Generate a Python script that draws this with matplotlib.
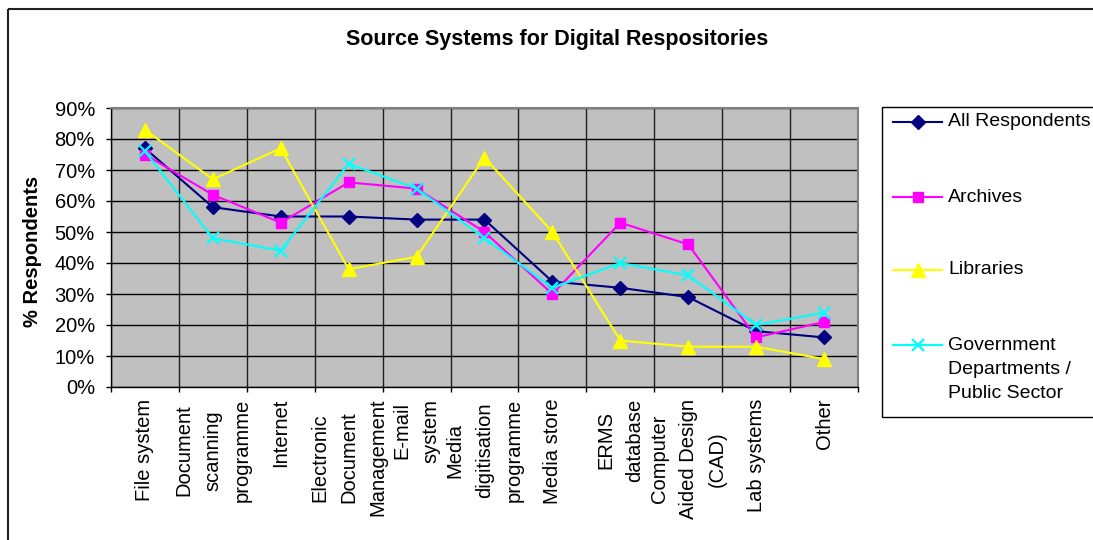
import matplotlib
matplotlib.use("Agg")
import matplotlib.pyplot as plt
from matplotlib.patches import Rectangle
import numpy as np

plt.rcParams['font.family'] = ['Liberation Sans', 'DejaVu Sans']

# ---- data -------------------------------------------------------------
categories = [
    "File system",
    "Document\nscanning\nprogramme",
    "Internet",
    "Electronic\nDocument\nManagement",
    "E-mail\nsystem",
    "Media\ndigitisation\nprogramme",
    "Media store",
    "ERMS\ndatabase",
    "Computer\nAided Design\n(CAD)",
    "Lab systems",
    "Other",
]
all_respondents = [77, 58, 55, 55, 54, 54, 34, 32, 29, 18, 16]
archives = [75, 62, 53, 66, 64, 50, 30, 53, 46, 16, 21]
libraries = [83, 67, 77, 38, 42, 74, 50, 15, 13, 13, 9]
government = [76, 48, 44, 72, 64, 48, 32, 40, 36, 20, 24]
series_names = ["All Respondents", "Archives", "Libraries",
                "Government\nDepartments /\nPublic Sector"]
y_ticks = [0, 10, 20, 30, 40, 50, 60, 70, 80, 90]
title = "Source Systems for Digital Respositories"
y_label = "% Respondents"

# ---- styles -----------------------------------------------------------
styles = [
    dict(color="#000080", marker="D", markersize=7, lw=1.5),
    dict(color="#FF00FF", marker="s", markersize=7, lw=1.5),
    dict(color="#FFFF00", marker="^", markersize=9.5, lw=1.5),
    dict(color="#00FFFF", marker="x", markersize=9, markeredgewidth=1.6, lw=1.5),
]

W, H = 1093, 540
fig = plt.figure(figsize=(W / 100, H / 100), dpi=100)


def px_box(left, top, right, bottom):
    return [left / W, 1 - bottom / H, (right - left) / W, (bottom - top) / H]


ax = fig.add_axes(px_box(111, 108, 858, 387))
ax.set_facecolor("#C0C0C0")

x = np.arange(len(categories))
for values, st in zip([all_respondents, archives, libraries, government], styles):
    ax.plot(x, values, markeredgecolor=st["color"], markerfacecolor=st["color"],
            clip_on=False, zorder=3, **st)

ax.set_xlim(-0.5, len(categories) - 0.5)
ax.set_ylim(0, 90)

ax.set_yticks(y_ticks)
ax.set_yticklabels([f"{v}%" for v in y_ticks], fontsize=14.5)
ax.set_xticks(x)
ax.set_xticklabels(categories, rotation=90, ha="center", va="top",
                   multialignment="center", fontsize=14.5, linespacing=1.68)
ax.set_xticks(np.arange(-0.5, len(categories), 1.0), minor=True)

ax.tick_params(axis="y", direction="out", length=3.6, width=1, pad=8, colors="black")
ax.tick_params(axis="x", which="major", length=0, pad=8.5)
ax.tick_params(axis="x", which="minor", direction="out", length=3.6, width=1)

ax.yaxis.grid(True, color="black", lw=1)
ax.xaxis.grid(True, which="minor", color="#202020", lw=1)
ax.set_axisbelow(True)

for side in ("left", "bottom"):
    ax.spines[side].set_color("black")
    ax.spines[side].set_linewidth(1)
for side in ("top", "right"):
    ax.spines[side].set_color("#808080")
    ax.spines[side].set_linewidth(1.5)

fig.text(557 / W, 1 - 40 / H, title, ha="center", va="center",
         fontsize=15.5, fontweight="bold")
fig.text(33 / W, 1 - 251 / H, y_label, rotation=90, ha="center", va="center",
         fontsize=14.5, fontweight="bold")

# ---- overlay in pixel coordinates: chart border and legend ------------
lax = fig.add_axes([0, 0, 1, 1])
lax.set_xlim(0, W)
lax.set_ylim(H, 0)
lax.axis("off")

lax.add_patch(Rectangle((8, 9), 1200, 600, fill=False, ec="#202020", lw=1.5))
lax.add_patch(Rectangle((882, 107), 300, 310, fill=False, ec="black", lw=1))

entry_y = [122, 197, 270, 345]
for name, st, yy in zip(series_names, styles, entry_y):
    lax.plot([893, 942], [yy, yy], color=st["color"], lw=st["lw"])
    lax.plot([917.5], [yy], linestyle="none", marker=st["marker"],
             markersize=st["markersize"], markeredgewidth=st.get("markeredgewidth", 1),
             color=st["color"])
    if "\n" in name:
        lax.text(948, yy - 8, name, ha="left", va="top", fontsize=14, linespacing=1.55)
    else:
        lax.text(948, yy, name, ha="left", va="center", fontsize=14)

fig.savefig("out.png", dpi=100)
